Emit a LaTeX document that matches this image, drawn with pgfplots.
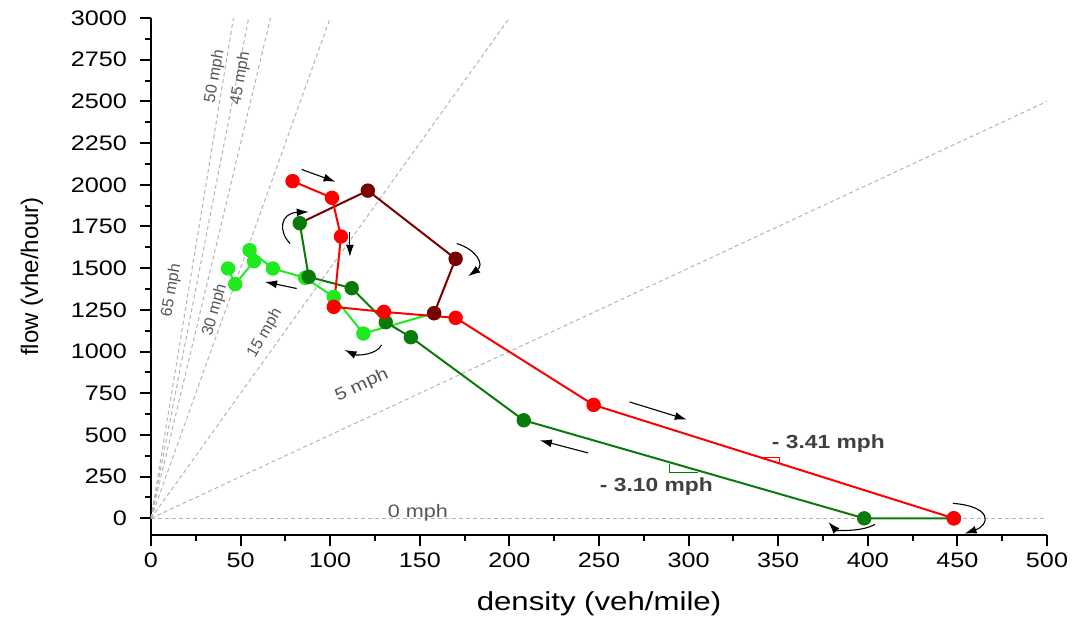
\documentclass[border=0pt]{standalone}
\usepackage{fontspec}
\setmainfont[FakeStretch=1.2]{Liberation Sans}
\newfontfamily\plainsans{Liberation Sans}
\usepackage{pgfplots}
\pgfplotsset{compat=1.18}
\usetikzlibrary{arrows.meta}
\definecolor{cred}{RGB}{255,0,0}
\definecolor{cmaroon}{RGB}{122,0,0}
\definecolor{cdgreen}{RGB}{10,122,10}
\definecolor{clgreen}{RGB}{30,235,30}
\definecolor{spd}{RGB}{180,180,180}
\definecolor{lab}{RGB}{85,85,85}
\definecolor{slab}{RGB}{64,64,64}
\begin{document}
\begin{tikzpicture}
\begin{axis}[
 width=448pt, height=258.5pt, scale only axis,
 xmin=0, xmax=500, ymin=-100, ymax=3000,
 axis x line*=bottom, axis y line*=left,
 axis line style={line width=1.2pt, -},
 xtick={0,50,...,500}, ytick={0,250,...,3000},
 minor x tick num=1, minor y tick num=1,
 tick align=outside,
 major tick length=5.5pt, minor tick length=3pt,
 every tick/.style={line width=1pt, black},
 /pgf/number format/assume math mode=true,
 /pgf/number format/set thousands separator={},
 tick label style={font=\fontsize{10.5}{12}\selectfont},
 yticklabel style={xshift=-3pt},
 xlabel={density (veh/mile)},
 ylabel={\plainsans flow (vhe/hour)},
 xlabel style={font=\fontsize{13}{15}\selectfont},
 ylabel style={font=\fontsize{12}{14}\selectfont},
 xlabel shift=5pt, ylabel shift=7pt,
 mark size=3.1pt,
]
% speed reference lines
\addplot[spd, dash pattern=on 2pt off 1.5pt, line width=0.5pt] coordinates {(0,0) (500,0)};
\addplot[spd, dash pattern=on 2pt off 1.5pt, line width=0.5pt] coordinates {(0,0) (500,2500)};
\addplot[spd, dash pattern=on 2pt off 1.5pt, line width=0.5pt] coordinates {(0,0) (200,3000)};
\addplot[spd, dash pattern=on 2pt off 1.5pt, line width=0.5pt] coordinates {(0,0) (100,3000)};
\addplot[spd, dash pattern=on 2pt off 1.5pt, line width=0.5pt] coordinates {(0,0) (66.7,3000)};
\addplot[spd, dash pattern=on 2pt off 1.5pt, line width=0.5pt] coordinates {(0,0) (54.5,3000)};
\addplot[spd, dash pattern=on 2pt off 1.5pt, line width=0.5pt] coordinates {(0,0) (46,3000)};

% light green
\addplot[clgreen, line width=1pt, mark=*, mark options={solid, fill=clgreen, draw=clgreen}] coordinates {
 (158,1230) (118.5,1108) (102,1328) (86,1442) (68,1498) (55,1608) (57.5,1542) (47,1404) (43,1498)};
% dark green
\addplot[cdgreen, line width=1pt, mark=*, mark options={solid, fill=cdgreen, draw=cdgreen}] coordinates {
 (448,0) (398,0) (208,588) (145,1086) (131,1176) (112,1380) (88,1448) (83,1770)};
% maroon
\addplot[cmaroon, line width=1pt, mark=*, mark indices={2,3,4}, mark options={solid, fill=cmaroon, draw=cmaroon}] coordinates {
 (83,1770) (121,1965) (170,1556) (158,1230)};
% red
\addplot[cred, line width=1pt, mark=*, mark options={solid, fill=cred, draw=cred}] coordinates {
 (79,2022) (101,1922) (106,1690) (102,1268) (130,1238) (170,1202) (247,680) (448,0)};
% maroon marker on top of red line
\addplot[cmaroon, only marks, mark=*, mark options={solid, fill=cmaroon, draw=cmaroon}] coordinates {(158,1230)};

% speed labels
\node[rotate=80, font=\plainsans\fontsize{8}{9}\selectfont, text=lab] at (axis cs:11.5,1368) {65 mph};
\node[rotate=80, font=\plainsans\fontsize{8}{9}\selectfont, text=lab] at (axis cs:35.7,2648) {50 mph};
\node[rotate=80, font=\plainsans\fontsize{8}{9}\selectfont, text=lab] at (axis cs:50,2638) {45 mph};
\node[rotate=74, font=\plainsans\fontsize{8}{9}\selectfont, text=lab] at (axis cs:35.7,1248) {30 mph};
\node[rotate=60, font=\plainsans\fontsize{8}{9}\selectfont, text=lab] at (axis cs:63.6,1110) {15 mph};
\node[rotate=25, font=\fontsize{8.5}{9}\selectfont, text=lab] at (axis cs:117.7,798) {5 mph};
\node[font=\fontsize{9}{10}\selectfont, text=lab] at (axis cs:149,32) {0 mph};

% slope labels and triangles
\node[font=\bfseries\fontsize{9.5}{11}\selectfont, text=slab] at (axis cs:378,448) {- 3.41 mph};
\node[font=\bfseries\fontsize{9.5}{11}\selectfont, text=slab] at (axis cs:282,188) {- 3.10 mph};
\draw[cred, line width=0.5pt] (axis cs:338.9,364) -- (axis cs:351,364) -- (axis cs:351,324);
\draw[cdgreen, line width=0.5pt] (axis cs:289.6,328) -- (axis cs:289.6,276) -- (axis cs:305.4,276);

% arrows
\tikzset{arr/.style={-{Latex[length=6pt,width=4pt]}, line width=0.55pt, black}}
\draw[arr] (axis cs:84,2092) -- (axis cs:103,2018);
\draw[arr] (axis cs:111,1718) -- (axis cs:111,1568);
\draw[arr] (axis cs:81.3,1378) -- (axis cs:63.6,1418);
\draw[arr] (axis cs:267,698) -- (axis cs:299,592);
\draw[arr] (axis cs:244,392) -- (axis cs:217,468);
\draw[arr] (axis cs:77.6,1648) .. controls (axis cs:71,1720) and (axis cs:72,1830) .. (axis cs:88,1838);
\draw[arr] (axis cs:170.6,1648) .. controls (axis cs:182,1610) and (axis cs:186,1520) .. (axis cs:177,1452);
\draw[arr] (axis cs:128.7,1040) .. controls (axis cs:126,980) and (axis cs:115,975) .. (axis cs:108,1010);
\draw[arr] (axis cs:447.5,90) .. controls (axis cs:470,70) and (axis cs:468,-40) .. (axis cs:454,-92);
\draw[arr] (axis cs:404,-36) .. controls (axis cs:396,-85) and (axis cs:382,-70) .. (axis cs:378,-22);
\end{axis}
\pgfresetboundingbox
\path[use as bounding box] ([shift={(-75.5pt,-41.5pt)}]current axis.south west) rectangle ([shift={(468pt,267.5pt)}]current axis.south west);
\end{tikzpicture}
\end{document}
